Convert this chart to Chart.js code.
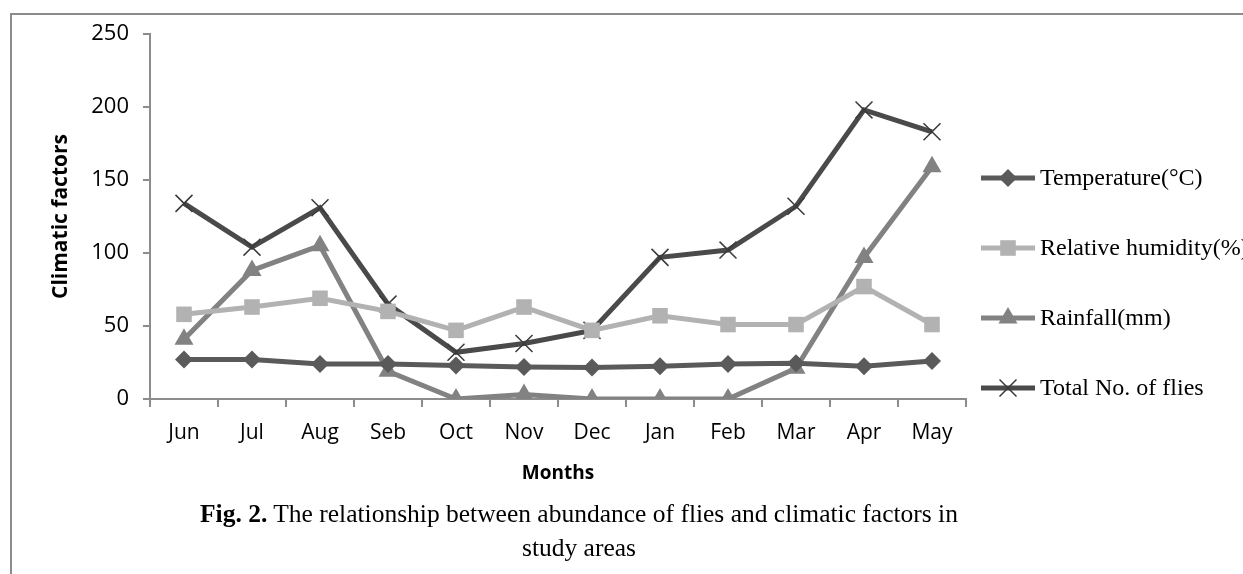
<!DOCTYPE html>
<html>
<head>
<meta charset="utf-8">
<script src="https://cdn.jsdelivr.net/npm/chart.js@4.4.0/dist/chart.umd.min.js"></script>
<style>
  body { margin: 0; background: #fff; }
  #wrap { position: relative; width: 1243px; height: 574px; overflow: hidden; }
  #frame { position: absolute; left: 10px; top: 13px; width: 1300px; height: 600px; border-left: 2px solid #8c8c8c; border-top: 2px solid #8c8c8c; }
  #caption { position: absolute; left: 0; top: 497px; width: 1158px; text-align: center; font-family: 'Liberation Serif', 'Times New Roman', serif; font-size: 25.5px; line-height: 34px; color: #000; }
</style>
</head>
<body>
<div id="wrap">
  <div id="frame"></div>
  <canvas id="myCanvas" width="1243" height="574"></canvas>
  <div id="caption"><b>Fig. 2.</b> The relationship between abundance of flies and climatic factors in<br>study areas</div>
</div>
<script>
'use strict';

// data
let months = ['Jun','Jul','Aug','Seb','Oct','Nov','Dec','Jan','Feb','Mar','Apr','May'];
let temperature = [27, 27, 24, 24, 23, 22, 21.5, 22.5, 24, 24.5, 22.5, 26];
let humidity = [58, 63, 69, 60, 47, 63, 47, 57, 51, 51, 77, 51];
let rainfall = [41, 88, 105, 19, 0, 3, 0, 0, 0, 21, 97, 159];
let totalFlies = [134, 104, 131, 65, 32, 38, 47, 97, 102, 132, 198, 183];
let yTicks = [0, 50, 100, 150, 200, 250];

const chartInfo = document.getElementById('myCanvas');

function makeSet(label, data, color, pointStyle, radius, pointColor) {
  return {
    label: label,
    data: data,
    borderColor: color,
    backgroundColor: pointColor || color,
    pointBackgroundColor: pointColor || color,
    pointBorderColor: pointColor || color,
    borderWidth: 5,
    pointStyle: pointStyle,
    pointRadius: radius,
    pointBorderWidth: pointStyle === 'crossRot' ? 1.5 : 0,
    tension: 0
  };
}

// draws the legend on the right with a line + marker like the original
const sideLegend = {
  id: 'sideLegend',
  afterDraw(chart) {
    const ctx = chart.ctx;
    const sets = chart.data.datasets;
    const x0 = 981, x1 = 1035;
    const yStart = 178, step = 70;
    ctx.save();
    for (let i = 0; i < sets.length; i++) {
      let ds = sets[i];
      let y = yStart + i * step;
      ctx.strokeStyle = ds.borderColor;
      ctx.lineWidth = 5;
      ctx.beginPath();
      ctx.moveTo(x0, y);
      ctx.lineTo(x1, y);
      ctx.stroke();
      ctx.fillStyle = ds.pointBackgroundColor;
      ctx.strokeStyle = ds.pointBorderColor;
      ctx.lineWidth = ds.pointBorderWidth || 1;
      Chart.helpers.drawPoint(ctx, {
        pointStyle: ds.pointStyle,
        radius: ds.pointRadius,
        rotation: 0,
        borderWidth: ds.pointBorderWidth
      }, (x0 + x1) / 2, y);
      ctx.fillStyle = '#000';
      ctx.font = '24px "Liberation Serif", "Times New Roman", serif';
      ctx.textBaseline = 'middle';
      ctx.textAlign = 'left';
      ctx.fillText(ds.label, 1040, y + 1);
    }
    ctx.restore();
  }
};

const config = {
  type: 'line',
  data: {
    labels: months,
    datasets: [
      makeSet('Temperature(°C)', temperature, '#5a5a5a', 'rectRot', 9),
      makeSet('Relative humidity(%)', humidity, '#b2b2b2', 'rect', 11),
      makeSet('Rainfall(mm)', rainfall, '#828282', 'triangle', 11),
      makeSet('Total No. of flies', totalFlies, '#4a4a4a', 'crossRot', 12, '#3a3a3a')
    ]
  },
  plugins: [sideLegend],
  options: {
    responsive: false,
    animation: false,
    layout: { padding: { left: 10, top: 34, right: 277, bottom: 85 } },
    plugins: {
      legend: { display: false },
      tooltip: { enabled: false }
    },
    scales: {
      x: {
        offset: true,
        grid: { offset: true, drawOnChartArea: false, color: '#8c8c8c', tickLength: 8, lineWidth: 2 },
        border: { color: '#8c8c8c', width: 2 },
        ticks: { color: '#000', font: { family: 'Open Sans', size: 21 }, padding: 13, maxRotation: 0 },
        title: { display: true, text: 'Months', color: '#000', font: { family: 'Open Sans', size: 19, weight: 'bold' }, padding: { top: 12 } },
        afterFit(scale) { scale.height = 90; }
      },
      y: {
        min: 0,
        max: 250,
        afterBuildTicks(scale) { scale.ticks = yTicks.map(v => ({ value: v })); },
        grid: { drawOnChartArea: false, color: '#8c8c8c', tickLength: 7, lineWidth: 2 },
        border: { color: '#8c8c8c', width: 2 },
        ticks: { color: '#000', font: { family: 'Open Sans', size: 22 }, padding: 14 },
        title: { display: true, text: 'Climatic factors', color: '#000', font: { family: 'Open Sans', size: 21, weight: 'bold' }, padding: { top: 38, bottom: 0 } },
        afterFit(scale) { scale.width = 140; }
      }
    }
  }
};

const myChart = new Chart(chartInfo, config);
</script>
</body>
</html>
